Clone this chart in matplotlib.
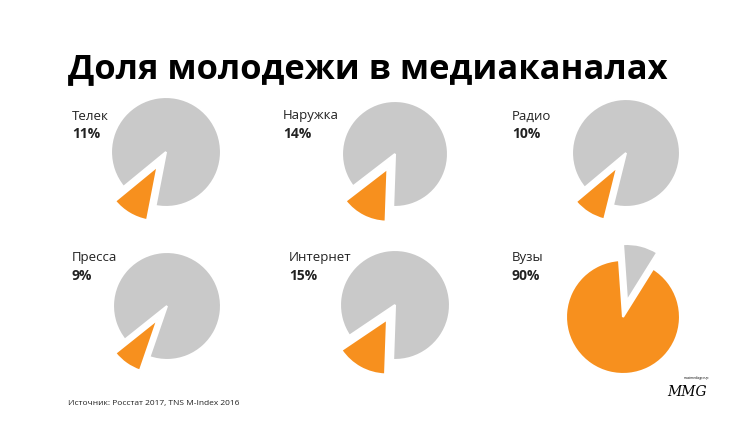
import matplotlib.pyplot as plt

W, H = 750, 421

channels = ['Телек', 'Наружка', 'Радио', 'Пресса', 'Интернет', 'Вузы']
shares = [11, 14, 10, 9, 15, 90]
start_angles = [259, 268, 256, 251, 268, 58]

GRAY = '#c9c9c9'
ORANGE = '#f7901e'

# центры кругов и подписей в пикселях картинки
centers = [(166, 152), (395, 154), (626, 153), (167, 306), (395, 305), (623, 317)]
radii = [55, 53, 54, 54, 55, 57]
label_xy = [(72, 116), (283, 116), (512, 116), (72, 258), (289, 258), (512, 258)]

plt.rcParams['font.family'] = ['Open Sans', 'DejaVu Sans']

fig = plt.figure(figsize=(W / 100, H / 100), dpi=100)
fig.patch.set_facecolor('white')

fig.text(68 / W, 1 - 78 / H, 'Доля молодежи в медиаканалах',
         fontsize=24.8, fontweight='bold', va='baseline', ha='left')

BOX = 170  # размер осей в пикселях
LIM = 1.7  # 50 px на единицу
for i, name in enumerate(channels):
    cx, cy = centers[i]
    ax = fig.add_axes([(cx - BOX / 2) / W, 1 - (cy + BOX / 2) / H, BOX / W, BOX / H])
    s = shares[i]
    vals = [100 - s, s]
    explode = [0, 0.33] if s < 50 else [0.33, 0]
    ax.pie(vals, colors=[GRAY, ORANGE], startangle=start_angles[i], counterclock=True,
           explode=explode, radius=radii[i] / 50,
           wedgeprops=dict(edgecolor='white', linewidth=1.5))
    ax.set_xlim(-LIM, LIM)
    ax.set_ylim(-LIM, LIM)
    ax.set_aspect('equal')
    ax.axis('off')

    lx, ly = label_xy[i]
    fig.text(lx / W, 1 - ly / H, name, fontsize=9.5, va='center', ha='left', color='#222222')
    fig.text(lx / W, 1 - (ly + 18) / H, f'{s}%', fontsize=10, fontweight='bold',
             va='center', ha='left', color='#222222')

fig.text(68 / W, 1 - 403 / H, 'Источник: Росстат 2017, TNS M-Index 2016',
         fontsize=6, va='center', ha='left', color='#222222')

# логотип
fig.text(667 / W, 1 - 392 / H, 'MMG', fontsize=10, va='center', ha='left',
         family='DejaVu Serif', fontstyle='italic')
fig.text(684 / W, 1 - 378 / H, 'maximediagroup', fontsize=2.3, va='center', ha='left')

fig.savefig('out.png', dpi=100, facecolor='white')
